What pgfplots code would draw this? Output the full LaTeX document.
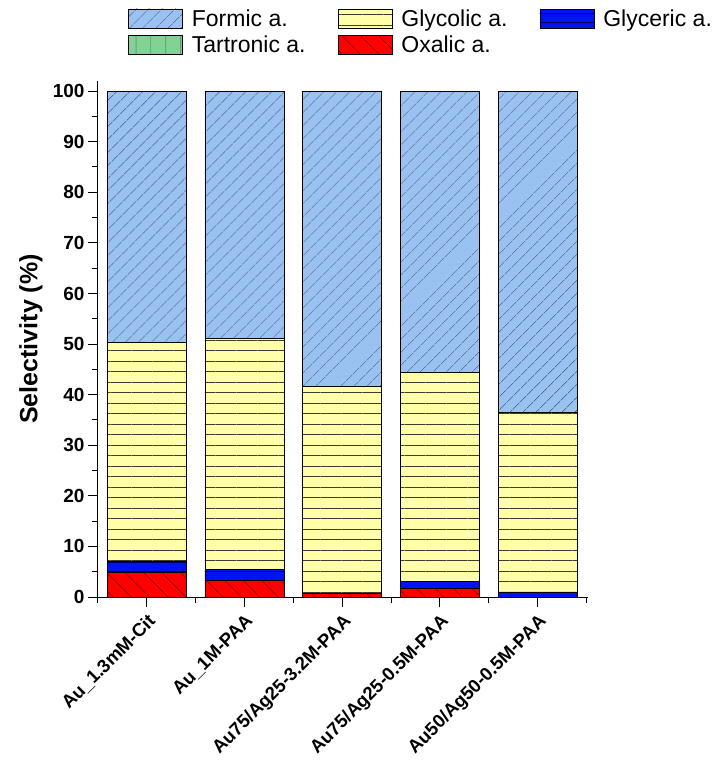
\documentclass[border=0pt]{standalone}
\usepackage{fontspec}
\setmainfont{Liberation Sans}
\usepackage{pgfplots}
\pgfplotsset{compat=1.18}
\usetikzlibrary{patterns.meta}
\definecolor{cFormic}{RGB}{153,194,242}
\definecolor{cFormicL}{RGB}{40,50,90}
\definecolor{cGlycolic}{RGB}{255,255,170}
\definecolor{cGlycolicL}{RGB}{60,60,40}
\definecolor{cGlyceric}{RGB}{0,20,240}
\definecolor{cGlycericL}{RGB}{0,0,90}
\definecolor{cTartronic}{RGB}{130,210,150}
\definecolor{cTartronicL}{RGB}{30,60,40}
\definecolor{cOxalic}{RGB}{255,0,0}
\definecolor{cOxalicL}{RGB}{110,0,0}
\tikzset{
  formic/.style={fill=cFormic, draw=black, line width=0.8bp, postaction={pattern={Lines[angle=45,distance=10bp,line width=0.6bp]}, pattern color=cFormicL}},
  glycolic/.style={fill=cGlycolic, draw=black, line width=0.8bp, postaction={pattern={Lines[angle=0,distance=10.5bp,line width=0.7bp]}, pattern color=cGlycolicL}},
  glyceric/.style={fill=cGlyceric, draw=black, line width=0.8bp, postaction={pattern={Lines[angle=0,distance=9bp,line width=0.6bp]}, pattern color=cGlycericL}},
  tartronic/.style={fill=cTartronic, draw=black, line width=0.8bp, postaction={pattern={Lines[angle=90,distance=15bp,line width=0.6bp]}, pattern color=cTartronicL}},
  oxalic/.style={fill=cOxalic, draw=black, line width=0.8bp, postaction={pattern={Lines[angle=-45,distance=13bp,line width=0.5bp]}, pattern color=cOxalicL}},
}
\pgfplotsset{legpatch/.style={legend image code/.code={\draw[##1] (0bp,-9.5bp) rectangle (54bp,9.5bp);}}}
\begin{document}
\begin{tikzpicture}
\path[use as bounding box] (-98bp,-163bp) rectangle (622bp,597bp);
\begin{axis}[
  scale only axis, width=490bp, height=516bp,
  xmin=-0.5, xmax=4.515, ymin=0, ymax=102,
  ybar stacked, bar width=0.81,
  axis x line*=bottom, axis y line*=left,
  axis line style={line width=1bp, black},
  tick align=outside,
  major tick length=10bp, minor tick length=6bp,
  every tick/.style={line width=1bp, black},
  xtick={0,...,4}, minor xtick={-0.5,0.5,...,4.5},
  xticklabels={Au\_1.3mM-Cit, Au\_1M-PAA, Au75/Ag25-3.2M-PAA, Au75/Ag25-0.5M-PAA, Au50/Ag50-0.5M-PAA},
  ytick={0,10,...,100}, minor ytick={5,15,...,95},
  /pgf/number format/assume math mode=true,
  tick label style={font=\fontsize{19bp}{22bp}\selectfont\bfseries},
  xticklabel style={rotate=45, anchor=north east, font=\fontsize{18.5bp}{22bp}\selectfont\bfseries},
  xticklabel shift=1bp,
  ylabel={Selectivity (\%)},
  ylabel style={font=\fontsize{25bp}{29bp}\selectfont\bfseries, at={(axis description cs:-0.137,0.5)}, anchor=center},
  legend columns=3,
  legend cell align=left,
  legend style={draw=none, fill=none, at={(axis description cs:0.061,1.143)}, anchor=north west,
    font=\fontsize{23bp}{27bp}\selectfont, inner sep=0pt, row sep=4bp,
    /tikz/every odd column/.append style={column sep=7bp},
    /tikz/every even column/.append style={column sep=30bp}},
]
\addlegendimage{formic, legpatch}\addlegendentry{Formic a.}
\addlegendimage{glycolic, legpatch}\addlegendentry{Glycolic a.}
\addlegendimage{glyceric, legpatch}\addlegendentry{Glyceric a.}
\addlegendimage{tartronic, legpatch}\addlegendentry{Tartronic a.}
\addlegendimage{oxalic, legpatch}\addlegendentry{Oxalic a.}
\addplot[oxalic] coordinates {(0,4.9) (1,3.2) (2,0.7) (3,1.7) (4,0)};
\addplot[glyceric] coordinates {(0,2.2) (1,2.3) (2,0) (3,1.4) (4,1.0)};
\addplot[glycolic] coordinates {(0,43.2) (1,45.6) (2,41.0) (3,41.2) (4,35.4)};
\addplot[formic] coordinates {(0,49.7) (1,48.9) (2,58.3) (3,55.7) (4,63.6)};
\end{axis}
\end{tikzpicture}
\end{document}
